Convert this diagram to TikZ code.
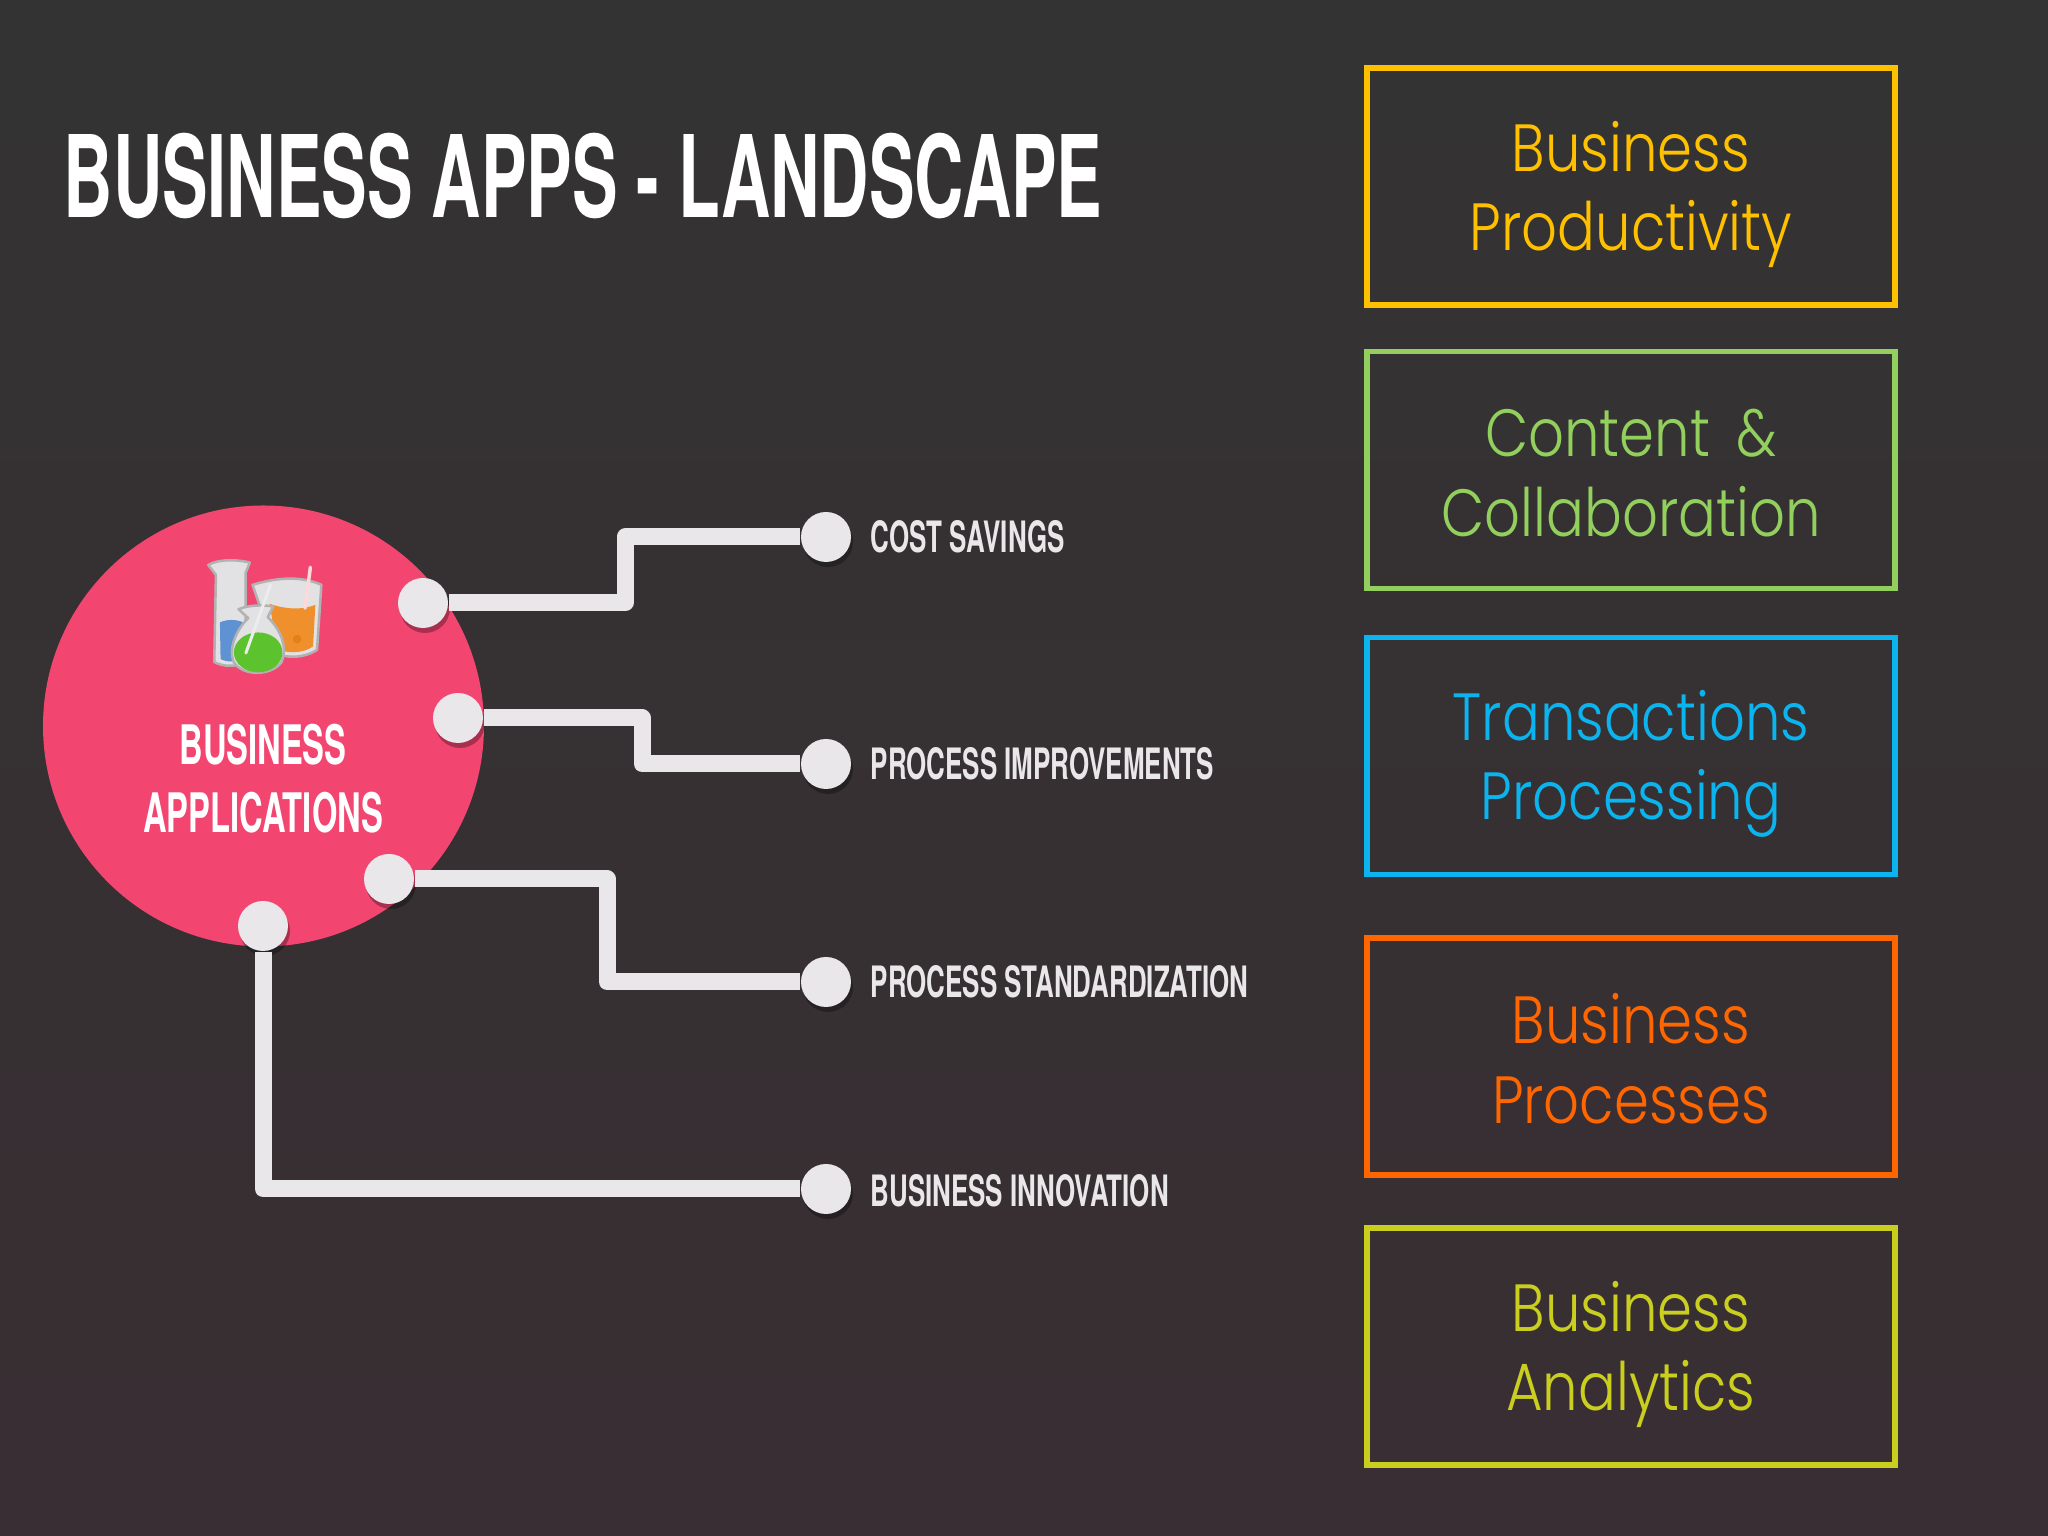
\documentclass[tikz,border=0pt]{standalone}
\usepackage{fontspec}
\setmainfont{TeX Gyre Heros}
\newfontfamily\narrowfont[FakeStretch=0.60]{TeX Gyre Heros Bold}
\newfontfamily\thinfont[UprightFont=* Light,FakeStretch=0.84]{Poppins}
\usetikzlibrary{shadows}
\definecolor{bgtop}{HTML}{333333}
\definecolor{bgbot}{HTML}{392E33}
\definecolor{rose}{HTML}{F24671}
\definecolor{pale}{HTML}{E9E7EA}
\definecolor{cyellow}{HTML}{FFC000}
\definecolor{cgreen}{HTML}{92CF5C}
\definecolor{cblue}{HTML}{0BB4EE}
\definecolor{corange}{HTML}{FF6600}
\definecolor{clime}{HTML}{C9CE1F}
\definecolor{glass}{HTML}{E2E2E4}
\definecolor{liqblue}{HTML}{5F92D2}
\definecolor{liqorange}{HTML}{F0902C}
\definecolor{liqgreen}{HTML}{5CC32E}
\tikzset{
  softshadow/.style={drop shadow={shadow xshift=0.02,shadow yshift=-0.05,opacity=0.3,fill=black}},
  dot/.style={circle,fill=pale,minimum size=0.5cm,inner sep=0pt,softshadow},
  wire/.style={draw=pale,line width=0.17cm,line join=round,
    preaction={draw=black,opacity=0.3,transform canvas={yshift=-0.04cm}}},
  tag/.style={right,inner sep=0pt,text=pale,font=\narrowfont\fontsize{12.3}{14}\selectfont},
  catbox/.style={draw=#1,line width=0.055cm,minimum width=5.28cm,minimum height=2.37cm,inner sep=0pt},
  cattext/.style={text=#1,align=center,inner sep=0pt,font=\thinfont\fontsize{19}{22.6}\selectfont},
  glassline/.style={draw=gray!60,line width=0.025cm,fill=glass,line join=round}
}
\begin{document}
\begin{tikzpicture}
\useasboundingbox (0,0) rectangle (20.48,15.36);
\shade[top color=bgtop,bottom color=bgbot] (0,0) rectangle (20.48,15.36);

\node[right,inner sep=0pt,text=white,font=\narrowfont\fontsize{32.4}{36}\selectfont] (title) at (0.63,13.6) {BUSINESS APPS - LANDSCAPE};

\node[circle,fill=rose,minimum size=4.41cm,inner sep=0pt] (hub) at (2.635,8.1) {};
\node[inner sep=0pt,text=white,align=center,font=\narrowfont\fontsize{15.5}{19.3}\selectfont] (hublabel) at (2.63,7.57) {BUSINESS\\APPLICATIONS};

% flasks
\begin{scope}[shift={(1.8,10.06)},x=0.00333cm,y=-0.00333cm]
\draw[glassline] (218,165) .. controls (300,140) and (370,140) .. (425,165) -- (412,360) .. controls (370,388) and (320,384) .. (290,372) -- cycle;
\fill[liqorange] (270,222) .. controls (320,240) and (370,240) .. (407,225) -- (400,350) .. controls (370,372) and (320,372) .. (290,357) -- cycle;
\fill[orange!60!brown] (352,328) circle (13);
\draw[line width=0.035cm,draw=pink!60!white,line cap=round] (392,112) -- (376,235);
\draw[glassline] (85,105) .. controls (120,85) and (180,90) .. (210,98) -- (197,130) -- (197,397) .. controls (170,412) and (130,412) .. (103,397) -- (108,135) -- cycle;
\fill[liqblue] (120,278) .. controls (140,268) and (170,268) .. (190,278) -- (190,385) .. controls (170,398) and (140,398) .. (122,388) -- cycle;
\draw[glassline] (176,238) .. controls (210,225) and (250,225) .. (280,230) -- (264,262) .. controls (302,300) and (325,350) .. (305,398) .. controls (272,440) and (190,440) .. (162,398) .. controls (142,350) and (178,290) .. (205,265) -- cycle;
\fill[liqgreen] (235,368) ellipse (73 and 60);
\draw[line width=0.03cm,draw=white!85!gray,line cap=round] (272,165) -- (198,370);
\end{scope}

\node[dot] (d1) at (4.23,9.33) {};
\node[dot] (d2) at (4.58,8.18) {};
\node[dot] (d3) at (3.89,6.57) {};
\node[dot] (d4) at (2.63,6.10) {};
\node[dot] (e1) at (8.26,9.99) {};
\node[dot] (e2) at (8.26,7.72) {};
\node[dot] (e3) at (8.26,5.54) {};
\node[dot] (e4) at (8.26,3.47) {};

\coordinate (k1) at (6.25,9.33);
\coordinate (k2) at (6.42,8.18);
\coordinate (k3) at (6.07,6.57);

\draw[wire] (d1) -- (k1) |- (e1);
\draw[wire] (d2) -- (k2) |- (e2);
\draw[wire] (d3) -- (k3) |- (e3);
\draw[wire] (d4) |- (e4);

\node[tag] (t1) at (8.70,9.99) {COST SAVINGS};
\node[tag] (t2) at (8.70,7.72) {PROCESS IMPROVEMENTS};
\node[tag] (t3) at (8.70,5.54) {PROCESS STANDARDIZATION};
\node[tag] (t4) at (8.70,3.45) {BUSINESS INNOVATION};

\node[catbox=cyellow] (b1) at (16.31,13.495) {};
\node[catbox=cgreen] (b2) at (16.31,10.66) {};
\node[catbox=cblue] (b3) at (16.31,7.80) {};
\node[catbox=corange] (b4) at (16.31,4.795) {};
\node[catbox=clime] (b5) at (16.31,1.895) {};

\node[cattext=cyellow] (l1) at ([yshift=-0.08cm]b1) {Business\\Productivity};
\node[cattext=cgreen] (l2) at ([yshift=-0.03cm]b2) {Content \,\&\\Collaboration};
\node[cattext=cblue] (l3) at ([yshift=-0.08cm]b3) {Transactions\\Processing};
\node[cattext=corange] (l4) at ([yshift=-0.02cm]b4) {Business\\Processes};
\node[cattext=clime] (l5) at ([yshift=-0.08cm]b5) {Business\\Analytics};

\end{tikzpicture}
\end{document}
